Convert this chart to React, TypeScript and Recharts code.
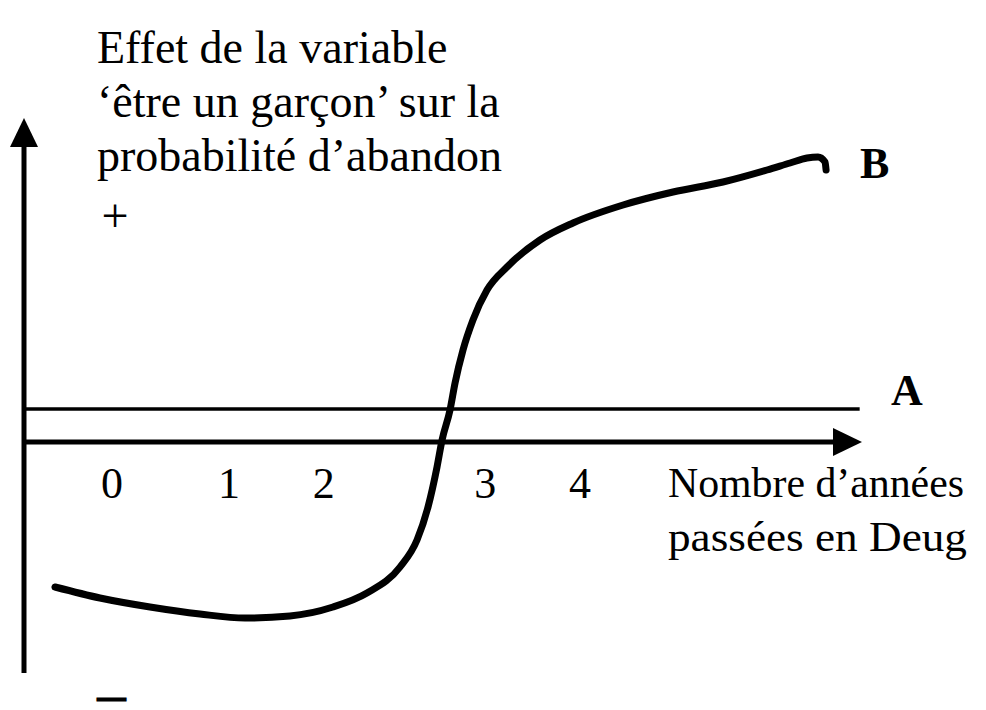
import { LineChart, Line, XAxis, YAxis, ReferenceLine, ReferenceDot } from "recharts";

// years spent in Deug (x) vs effect of "being a boy" on dropout probability (y)
const curveX = [
  -0.487, -0.103, 0.325, 0.752, 1.137, 1.521, 1.889, 2.179, 2.462, 2.607, 2.701, 2.778, 2.821,
  2.889, 2.932, 3.0, 3.085, 3.205, 3.376, 3.658, 3.94, 4.368, 4.795, 5.222, 5.598, 5.795, 5.94,
  6.034, 6.094, 6.103,
];
const curveY = [
  -1.45, -1.56, -1.65, -1.72, -1.76, -1.74, -1.65, -1.51, -1.25, -0.98, -0.65, -0.25, 0.02,
  0.32, 0.59, 0.92, 1.22, 1.52, 1.75, 2.02, 2.19, 2.37, 2.5, 2.6, 2.72, 2.79, 2.84, 2.85, 2.8,
  2.72,
];
const levelA = 0.33;
const lineAEnd = 6.39;
const xTicks = [0, 1, 1.81, 3.19, 4];
const xTickLabels = ["0", "1", "2", "3", "4"];
const xDomain: [number, number] = [-0.752, 6.41];
const yDomain: [number, number] = [-2.31, 3.24];

const titleLines = ["Effet de la variable", "\u2018\u00eatre un gar\u00e7on\u2019 sur la", "probabilit\u00e9 d\u2019abandon"];
const xTitleLines = ["Nombre d\u2019ann\u00e9es", "pass\u00e9es en Deug"];

const data = curveX.map((x, i) => ({ x, y: curveY[i] }));
const FONT = "'Liberation Serif', 'Times New Roman', serif";

function Arrow(props: any) {
  const { x1, y1, x2, y2 } = props;
  const len = Math.hypot(x2 - x1, y2 - y1) || 1;
  const ux = (x2 - x1) / len;
  const uy = (y2 - y1) / len;
  const head = 29;
  const half = 14;
  const bx = x2 - ux * head;
  const by = y2 - uy * head;
  const pts = `${x2},${y2} ${bx - uy * half},${by + ux * half} ${bx + uy * half},${by - ux * half}`;
  return (
    <g>
      <line x1={x1} y1={y1} x2={bx + ux * 2} y2={by + uy * 2} stroke="#000" strokeWidth={5} />
      <polygon points={pts} fill="#000" />
    </g>
  );
}

function TickText(label: string) {
  return (props: any) => {
    const vb = props.viewBox || {};
    const cx = (vb.x ?? 0) + (vb.width ?? 0) / 2;
    const cy = (vb.y ?? 0) + (vb.height ?? 0) / 2;
    return (
      <text x={cx} y={cy + 56} textAnchor="middle" fontFamily={FONT} fontSize={44} fill="#000">
        {label}
      </text>
    );
  };
}

export default function App() {
  return (
    <div style={{ position: "absolute", left: 0, top: 0, width: 986, height: 710, background: "#fff" }}>
      <LineChart width={986} height={710} data={data} margin={{ top: 118, right: 124, bottom: 37, left: 24 }}>
        <XAxis type="number" dataKey="x" domain={xDomain} hide allowDataOverflow />
        <YAxis type="number" domain={yDomain} hide allowDataOverflow />
        <ReferenceLine
          segment={[{ x: xDomain[0], y: yDomain[0] }, { x: xDomain[0], y: yDomain[1] }]}
          ifOverflow="visible"
          shape={Arrow}
        />
        <ReferenceLine
          segment={[{ x: xDomain[0], y: 0 }, { x: xDomain[1], y: 0 }]}
          ifOverflow="visible"
          shape={Arrow}
        />
        <ReferenceLine
          segment={[{ x: xDomain[0], y: levelA }, { x: lineAEnd, y: levelA }]}
          ifOverflow="visible"
          stroke="#000"
          strokeWidth={3.5}
        />
        {xTicks.map((t, i) => (
          <ReferenceDot
            key={i}
            x={t}
            y={0}
            r={0}
            fill="none"
            stroke="none"
            ifOverflow="visible"
            label={{ content: TickText(xTickLabels[i]) }}
          />
        ))}
        <Line
          type="monotone"
          dataKey="y"
          stroke="#000"
          strokeWidth={7}
          strokeLinecap="round"
          strokeLinejoin="round"
          dot={false}
          isAnimationActive={false}
        />
      </LineChart>
      <svg
        width={986}
        height={710}
        style={{ position: "absolute", left: 0, top: 0, pointerEvents: "none" }}
        fontFamily={FONT}
      >
        {titleLines.map((t, i) => (
          <text key={t} x={97} y={63 + i * 54} fontSize={46} fill="#000">
            {t}
          </text>
        ))}
        <text x={115} y={232} fontSize={48} textAnchor="middle" fill="#000">+</text>
        <text
          x={100}
          y={705}
          fontSize={21}
          textLength={23}
          lengthAdjust="spacingAndGlyphs"
          fill="#000"
          stroke="#000"
          strokeWidth={3}
        >
          {"\u2013"}
        </text>
        {xTitleLines.map((t, i) => (
          <text
            key={t}
            x={668}
            y={497 + i * 54}
            fontSize={43}
            textLength={i === 0 ? 296 : 299}
            lengthAdjust="spacingAndGlyphs"
            fill="#000"
          >
            {t}
          </text>
        ))}
        <text x={860} y={178} fontSize={44} fontWeight="bold" fill="#000">B</text>
        <text x={891} y={405} fontSize={44} fontWeight="bold" fill="#000">A</text>
      </svg>
    </div>
  );
}
